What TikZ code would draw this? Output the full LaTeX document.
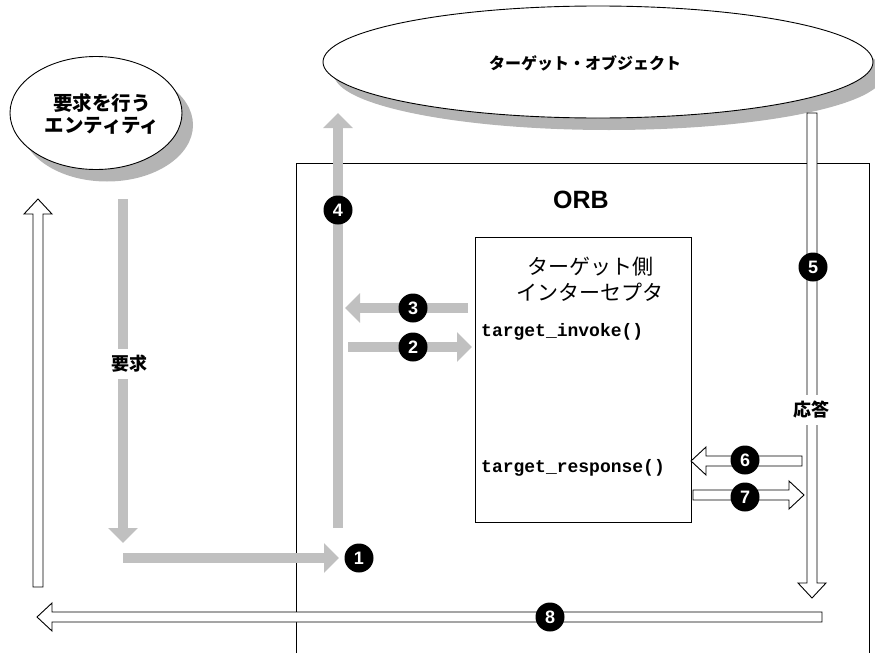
\documentclass[tikz,border=0pt]{standalone}
\usepackage{fontspec}
\setmainfont{Liberation Sans}
\setmonofont{Liberation Mono}
\newfontfamily\jpfont{Noto Sans CJK JP}
\usetikzlibrary{arrows.meta,calc,shapes.geometric,shadows}

\definecolor{flowgray}{RGB}{192,192,192}
\definecolor{shadowgray}{RGB}{180,180,180}

\tikzset{
  flow/.style={line width=10pt, flowgray, -{Triangle[width=29pt,length=15pt]}},
  hollow/.style={draw=black, fill=white, line width=0.9pt},
  stepmark/.style={circle, fill=black, text=white, inner sep=0pt, minimum size=29pt,
    font=\bfseries\fontsize{18}{18}\selectfont},
  entity/.style={ellipse, draw, fill=white, line width=0.9pt,
    drop shadow={shadow xshift=11pt, shadow yshift=-12pt, fill=shadowgray, opacity=1}},
  jpbold/.style={font=\jpfont\bfseries\fontsize{18}{22}\selectfont, align=center, inner sep=1pt},
  jplarge/.style={font=\jpfont\fontsize{21}{26}\selectfont, align=center, inner sep=0pt},
  code/.style={font=\ttfamily\bfseries\fontsize{18}{18}\selectfont, inner sep=0pt},
}

% white outlined arrow from #1 to #2
\newcommand\hollowarrow[2]{%
  \draw[hollow] let \p1=($(#2)-(#1)$), \n1={atan2(\y1,\x1)}, \n2={veclen(\x1,\y1)} in
    [shift={(#1)}, rotate=\n1]
    (0pt,-5pt) -- ({\n2-15pt},-5pt) -- ({\n2-15pt},-14pt) -- ({\n2+0pt},0pt)
    -- ({\n2-15pt},14pt) -- ({\n2-15pt},5pt) -- (0pt,5pt) -- cycle;}

\begin{document}
\begin{tikzpicture}[x=1pt,y=-1pt]
\useasboundingbox (0,0) rectangle (875,653);

%% ORB
\draw[line width=0.8pt] (296,653) -- (296,163) -- (869,163) -- (869,653);
\node[font=\bfseries\fontsize{25}{25}\selectfont] (orb) at (581,200) {ORB};

% interceptor
\node[draw, fill=white, line width=0.9pt, minimum width=216pt, minimum height=285pt, inner sep=0pt]
  (icpt) at (583,379.5) {};
\node[jplarge] (icpttitle) at (590,279) {ターゲット側\\インターセプタ};
\node[code, anchor=west] (invoke) at (481,332) {target\_invoke()};
\node[code, anchor=west] (response) at (481,468) {target\_response()};

%% ellipses
\node[entity, minimum width=172pt, minimum height=113pt] (entity) at (96,113) {};
\node[jpbold, font=\jpfont\bfseries\fontsize{19.5}{22}\selectfont] (entitytext) at (102,114) {要求を行う\\エンティティ};
\node[entity, minimum width=550pt, minimum height=112pt] (target) at (598,62) {};
\node[jpbold, font=\jpfont\bfseries\fontsize{16}{16}\selectfont] (targettext) at (585,63) {ターゲット・オブジェクト};

%% end points
\coordinate (reqtop) at (123,199);
\coordinate (reqtip) at (123,543);
\coordinate (in1) at (123,558);
\coordinate (tip1) at (339,558);
\coordinate (bot4) at (338,528);
\coordinate (tip4) at (338,113);
\coordinate (in3) at (468,308);
\coordinate (tip3) at (345,308);
\coordinate (in2) at (348,347);
\coordinate (tip2) at (472,347);
\coordinate (retbot) at (38,587);
\coordinate (rettop) at (38,199);
\coordinate (resptop) at (812,113);
\coordinate (respbot) at (812,598);
\coordinate (in6) at (802,461);
\coordinate (tip6) at (691,461);
\coordinate (in7) at (693,495);
\coordinate (tip7) at (804,495);
\coordinate (in8) at (822,617);
\coordinate (tip8) at (37,617);

% request path
\draw[flow] (reqtop) -- (reqtip);
\draw[flow] (in1) -- (tip1);
\draw[flow] (bot4) -- (tip4);
\draw[flow] (in3) -- (tip3);
\draw[flow] (in2) -- (tip2);

% response path
\hollowarrow{resptop}{respbot}
\hollowarrow{in6}{tip6}
\hollowarrow{in7}{tip7}
\hollowarrow{in8}{tip8}
\hollowarrow{retbot}{rettop}

\node[jpbold, fill=white, inner ysep=6pt] (reqlabel) at (129,364) {要求};
\node[jpbold, fill=white, inner ysep=6pt] (resplabel) at (811,410) {応答};

%% steps
\node[stepmark] (s1) at (359,558) {1};
\node[stepmark] (s2) at (413,347) {2};
\node[stepmark] (s3) at (413,308) {3};
\node[stepmark] (s4) at (338,210) {4};
\node[stepmark] (s5) at (813,267) {5};
\node[stepmark] (s6) at (745,460) {6};
\node[stepmark] (s7) at (745,497) {7};
\node[stepmark] (s8) at (550,617) {8};

\end{tikzpicture}
\end{document}
